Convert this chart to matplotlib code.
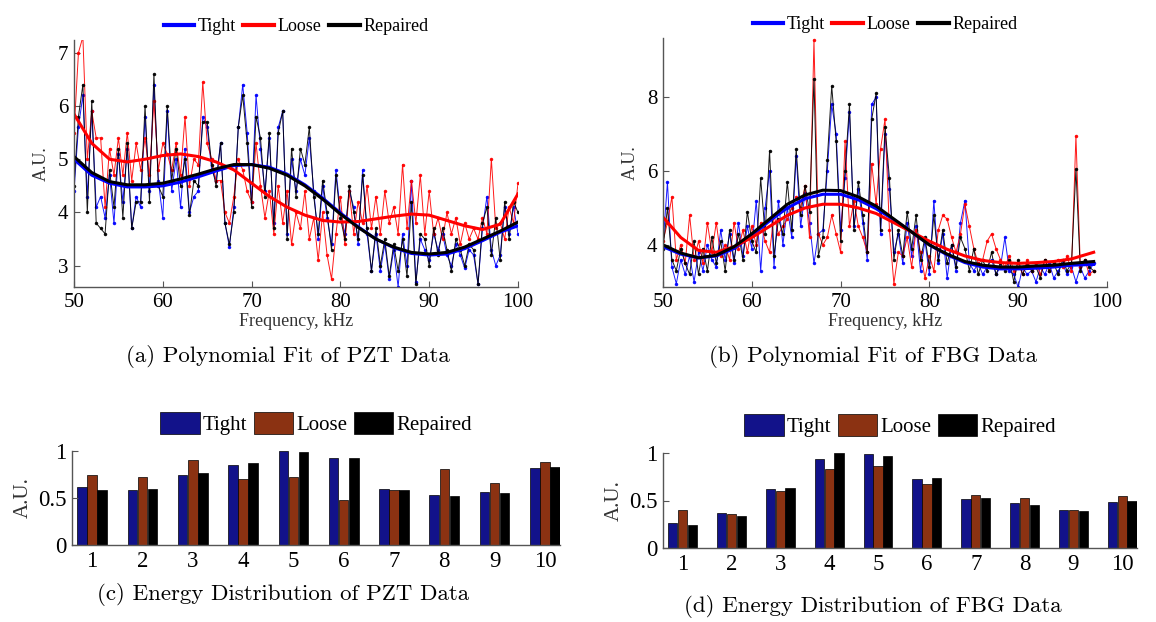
import numpy as np
import matplotlib
matplotlib.use('Agg')
import matplotlib.pyplot as plt
from matplotlib.lines import Line2D
from matplotlib.patches import Patch

# ---------------- data : panel (a) PZT, 50 .. 100 kHz step 0.5 ----------------
freq_a = np.arange(50, 100.25, 0.5)

tight_a = [4.4, 5.6, 6.2, 4.3, 5.9, 4.1, 4.3, 3.9, 4.7, 3.8,
           5.1, 4.2, 5.2, 3.7, 4.3, 4.1, 5.8, 4.4, 6.4, 4.6,
           3.9, 5.9, 4.4, 5.0, 4.1, 5.2, 4.0, 4.3, 4.4, 5.8,
           5.6, 4.8, 4.6, 5.3, 3.8, 3.35, 4.1, 5.6, 6.4, 5.5,
           4.2, 6.2, 5.2, 4.4, 5.4, 3.8, 5.6, 5.9, 3.6, 5.0,
           4.4, 5.0, 4.7, 5.4, 4.4, 3.5, 4.5, 3.9, 3.4, 4.8,
           4.0, 3.6, 4.4, 4.1, 3.4, 4.8, 3.6, 2.9, 3.6, 2.9,
           3.4, 2.75, 3.3, 2.6, 3.6, 3.0, 4.6, 2.7, 3.5, 3.3,
           3.1, 3.6, 3.3, 3.6, 3.2, 3.0, 3.4, 3.2, 2.95, 3.3,
           3.2, 2.65, 3.7, 4.3, 3.3, 3.0, 3.2, 4.1, 3.6, 4.1,
           3.6]
loose_a = [5.5, 7.0, 7.3, 5.0, 5.9, 5.4, 5.4, 4.1, 5.2, 4.7,
           5.4, 4.7, 5.5, 4.6, 5.3, 4.8, 5.4, 4.7, 6.1, 4.8,
           5.3, 5.1, 4.8, 5.3, 4.7, 5.8, 4.5, 5.0, 4.9, 6.45,
           5.3, 5.0, 4.6, 4.6, 4.0, 3.8, 4.3, 5.0, 4.8, 4.4,
           4.2, 5.3, 4.5, 3.9, 4.4, 3.6, 4.5, 3.8, 4.4, 3.4,
           4.0, 3.7, 4.4, 3.5, 3.9, 3.1, 4.0, 3.2, 2.75, 3.6,
           4.3, 3.4, 4.4, 3.6, 4.2, 3.8, 4.5, 3.7, 4.3, 3.6,
           4.4, 3.8, 4.1, 3.6, 4.9, 3.7, 4.6, 3.8, 4.7, 3.6,
           4.4, 3.6, 3.9, 3.5, 4.0, 3.6, 3.9, 3.4, 3.8, 3.5,
           3.7, 3.5, 3.9, 3.6, 5.0, 3.7, 3.8, 3.5, 4.1, 3.8,
           4.55]
repaired_a = [4.5, 5.8, 6.4, 4.0, 6.1, 3.8, 3.7, 3.6, 4.8, 4.1,
              5.2, 3.9, 5.3, 3.7, 4.2, 4.2, 6.0, 4.2, 6.6, 4.5,
              4.3, 6.0, 4.6, 5.2, 4.5, 5.0, 3.95, 4.6, 4.5, 5.7,
              5.7, 4.9, 4.5, 5.3, 3.8, 3.4, 4.0, 5.6, 6.2, 5.3,
              4.1, 5.8, 5.4, 4.3, 5.5, 3.7, 5.5, 5.9, 3.5, 5.2,
              4.3, 5.2, 4.9, 5.6, 4.3, 3.6, 4.6, 4.0, 3.3, 4.7,
              3.9, 3.5, 4.5, 4.0, 3.5, 4.7, 3.7, 2.9, 3.7, 3.0,
              3.5, 2.8, 3.4, 2.9, 3.5, 2.8, 4.2, 2.65, 3.6, 3.5,
              3.0, 3.7, 3.2, 3.7, 3.3, 2.9, 3.5, 3.3, 3.0, 3.4,
              3.3, 2.65, 3.8, 4.1, 3.2, 3.9, 3.1, 4.2, 3.5, 4.2,
              4.0]

# polynomial fits, every 2 kHz
fit_freq_a = np.arange(50, 100.5, 2)
fit_tight_a = [5.0, 4.7, 4.55, 4.48, 4.48, 4.5, 4.57, 4.67, 4.78, 4.88, 4.9, 4.85, 4.72,
               4.52, 4.27, 3.99, 3.73, 3.5, 3.34, 3.23, 3.2, 3.22, 3.32, 3.47, 3.63, 3.75]
fit_loose_a = [5.85, 5.3, 5.0, 4.95, 5.0, 5.07, 5.1, 5.05, 4.95, 4.8, 4.55, 4.3, 4.1,
               3.95, 3.85, 3.82, 3.83, 3.88, 3.93, 3.97, 3.95, 3.85, 3.75, 3.68, 3.78, 4.35]
fit_repaired_a = [5.05, 4.75, 4.58, 4.52, 4.52, 4.55, 4.63, 4.72, 4.82, 4.9, 4.9, 4.83, 4.7,
                  4.5, 4.25, 3.97, 3.72, 3.5, 3.35, 3.25, 3.22, 3.25, 3.35, 3.5, 3.65, 3.82]

# ---------------- data : panel (b) FBG, 50 .. 98.5 kHz step 0.5 ----------------
freq_b = np.arange(50, 98.75, 0.5)

tight_b = [4.0, 5.7, 3.4, 2.95, 3.6, 3.2, 3.7, 3.0, 3.8, 3.3,
           4.0, 3.6, 3.4, 4.4, 3.6, 4.3, 3.5, 4.6, 3.7, 4.5,
           3.9, 5.2, 3.3, 5.0, 6.0, 3.4, 5.2, 4.0, 5.0, 4.2,
           6.4, 4.5, 5.4, 4.6, 3.5, 4.3, 4.4, 6.0, 7.8, 7.0,
           4.4, 5.8, 7.6, 4.5, 5.5, 4.6, 3.6, 7.8, 8.0, 4.3,
           7.0, 5.5, 3.8, 4.3, 3.5, 4.6, 3.7, 4.5, 3.3, 4.1,
           3.2, 5.2, 3.5, 4.3, 3.1, 4.0, 3.3, 4.6, 5.2, 3.5,
           3.3, 3.5, 3.2, 3.4, 3.6, 3.2, 3.4, 4.2, 3.3, 3.2,
           2.85, 3.4, 3.2, 3.3, 3.0, 3.4, 3.2, 3.5, 3.1, 3.3,
           3.5, 3.2, 3.4, 3.0, 3.4, 3.1, 3.3, 3.5]
loose_b = [4.1, 4.6, 5.3, 3.6, 4.0, 3.5, 4.8, 3.6, 4.1, 3.5,
           4.6, 3.8, 4.6, 3.7, 4.0, 3.6, 4.6, 3.9, 4.4, 3.8,
           4.5, 4.0, 4.6, 4.1, 3.8, 4.8, 4.3, 4.5, 4.7, 5.0,
           5.3, 5.0, 5.6, 4.2, 9.55, 4.3, 4.0, 4.2, 4.8, 4.3,
           3.8, 6.8, 4.5, 5.2, 4.5, 4.2, 3.8, 6.2, 5.1, 6.6,
           7.4, 4.4, 2.95, 3.8, 3.7, 4.2, 3.4, 4.4, 3.8, 3.1,
           3.7, 3.3, 4.4, 4.8, 4.7, 4.2, 3.8, 4.3, 5.1, 4.5,
           3.9, 3.5, 3.6, 4.1, 4.3, 3.9, 3.6, 3.4, 3.7, 3.3,
           3.5, 3.2, 3.6, 3.3, 3.5, 3.2, 3.6, 3.3, 3.5, 3.6,
           3.4, 3.7, 3.3, 6.95, 3.4, 3.6, 3.2, 3.3]
repaired_b = [3.9, 5.0, 3.6, 3.3, 3.9, 3.5, 3.2, 4.1, 3.2, 3.9,
              3.3, 4.2, 3.5, 4.1, 3.3, 4.4, 3.6, 4.3, 3.6, 4.9,
              4.1, 3.8, 5.8, 4.3, 6.55, 3.7, 4.7, 4.3, 5.7, 4.4,
              6.6, 4.8, 5.6, 4.9, 8.5, 3.7, 4.2, 6.3, 8.3, 6.8,
              4.1, 6.0, 7.8, 4.4, 5.7, 4.8, 3.8, 7.4, 8.1, 4.4,
              7.2, 5.8, 3.6, 4.4, 3.7, 4.9, 3.9, 4.8, 3.6, 4.2,
              3.4, 4.8, 3.6, 4.4, 3.5, 4.0, 3.4, 4.2, 3.9, 3.3,
              3.9, 3.2, 3.6, 3.3, 3.8, 3.2, 3.5, 3.3, 3.6, 3.0,
              3.6, 3.2, 3.5, 3.3, 3.4, 3.1, 3.6, 3.3, 3.5, 3.2,
              3.6, 3.3, 3.5, 6.05, 3.3, 3.6, 3.4, 3.3]

fit_freq_b = [50, 52, 54, 56, 58, 60, 62, 64, 66, 68, 70, 72, 74,
              76, 78, 80, 82, 84, 86, 88, 90, 92, 94, 96, 98.5]
fit_tight_b = [3.95, 3.75, 3.65, 3.7, 3.9, 4.25, 4.65, 5.0, 5.25, 5.37, 5.37, 5.22, 4.98,
               4.68, 4.35, 4.0, 3.73, 3.52, 3.4, 3.35, 3.35, 3.37, 3.4, 3.45, 3.47]
fit_loose_b = [4.75, 4.2, 3.85, 3.8, 3.95, 4.2, 4.5, 4.8, 5.0, 5.1, 5.1, 5.0, 4.85,
               4.6, 4.35, 4.1, 3.88, 3.7, 3.58, 3.52, 3.5, 3.52, 3.55, 3.62, 3.8]
fit_repaired_b = [4.0, 3.78, 3.65, 3.72, 3.95, 4.3, 4.7, 5.1, 5.35, 5.48, 5.47, 5.3, 5.05,
                  4.7, 4.35, 4.0, 3.75, 3.55, 3.45, 3.4, 3.4, 3.43, 3.45, 3.5, 3.55]

# ---------------- data : energy distributions (c) PZT and (d) FBG ----------------
bands = np.arange(1, 11)
pzt_tight = [0.62, 0.59, 0.75, 0.85, 1.0, 0.93, 0.6, 0.53, 0.56, 0.82]
pzt_loose = [0.75, 0.72, 0.9, 0.7, 0.72, 0.48, 0.59, 0.81, 0.66, 0.88]
pzt_repaired = [0.58, 0.6, 0.77, 0.87, 0.99, 0.93, 0.59, 0.52, 0.55, 0.83]
fbg_tight = [0.26, 0.37, 0.62, 0.94, 0.99, 0.73, 0.52, 0.47, 0.4, 0.48]
fbg_loose = [0.4, 0.36, 0.6, 0.83, 0.86, 0.67, 0.56, 0.53, 0.4, 0.55]
fbg_repaired = [0.24, 0.34, 0.63, 1.0, 0.97, 0.74, 0.53, 0.45, 0.39, 0.5]

labels = ['Tight', 'Loose', 'Repaired']
line_colors = ['#0000ff', '#ff0000', '#000000']
bar_colors = ['#12128a', '#8b3212', '#000000']

W, H = 1156, 622
serif = 'Liberation Serif'
cap_font = 'cmr10'


def rect(l, t, r, b):
    "pixel box -> figure fraction"
    return [l / W, 1 - b / H, (r - l) / W, (b - t) / H]


def style_axes(ax, tick_size):
    for s in ['top', 'right']:
        ax.spines[s].set_visible(False)
    for s in ['left', 'bottom']:
        ax.spines[s].set_color('#555555')
        ax.spines[s].set_linewidth(1.0)
    ax.tick_params(direction='in', length=4, width=0.8, color='#555555',
                   labelsize=tick_size, pad=4)
    for lab in ax.get_xticklabels() + ax.get_yticklabels():
        lab.set_fontfamily(serif)


def plot_fit_panel(ax, fx, noisy, ffx, fits, xlim, ylim, yticks):
    for ip in range(3):
        ax.plot(fx, noisy[ip], color=line_colors[ip], linewidth=0.7,
                marker='.', markersize=3, alpha=0.9)
    for ip in range(3):
        ax.plot(ffx, fits[ip], color=line_colors[ip], linewidth=2.2)
    ax.set_xlim(xlim)
    ax.set_ylim(ylim)
    ax.set_xticks([50, 60, 70, 80, 90, 100])
    ax.set_yticks(yticks)
    style_axes(ax, 15)
    ax.set_xlabel('Frequency, kHz', fontsize=13, family=serif, color='#333333', labelpad=1)
    ax.set_ylabel('A.U.', fontsize=13, family=serif, color='#333333', labelpad=6)
    handles = [Line2D([], [], color=c, linewidth=3) for c in line_colors]
    ax.legend(handles, labels, loc='lower center', bbox_to_anchor=(0.5, 0.99), ncol=3,
              frameon=False, prop={'family': serif, 'size': 13}, handlelength=1.7,
              handletextpad=0.2, columnspacing=0.4, borderaxespad=0)


def plot_bar_panel(ax, vals, xlim):
    w = 0.19
    for ip in range(3):
        ax.bar(bands + (ip - 1) * 0.2, vals[ip], width=w, color=bar_colors[ip],
               edgecolor='black', linewidth=0.5)
    ax.set_xlim(xlim)
    ax.set_ylim(0, 1)
    ax.set_xticks(bands)
    ax.set_yticks([0, 0.5, 1])
    ax.set_yticklabels(['0', '0.5', '1'])
    style_axes(ax, 16.5)
    ax.tick_params(axis='x', length=0)
    ax.set_ylabel('A.U.', fontsize=15, family=serif, color='#333333', labelpad=4)
    handles = [Patch(facecolor=c, edgecolor='black', linewidth=0.5) for c in bar_colors]
    ax.legend(handles, labels, loc='lower center', bbox_to_anchor=(0.5, 1.08), ncol=3,
              frameon=False, prop={'family': serif, 'size': 15}, handlelength=1.9,
              handleheight=1.2, handletextpad=0.15, columnspacing=0.3, borderaxespad=0)


fig = plt.figure(figsize=(W / 100, H / 100), dpi=100)
fig.patch.set_facecolor('white')

ax_a = fig.add_axes(rect(74, 40, 518, 287))
plot_fit_panel(ax_a, freq_a, [tight_a, loose_a, repaired_a], fit_freq_a,
               [fit_tight_a, fit_loose_a, fit_repaired_a], (50, 100), (2.6, 7.24),
               [3, 4, 5, 6, 7])

ax_b = fig.add_axes(rect(663, 38, 1107, 287))
plot_fit_panel(ax_b, freq_b, [tight_b, loose_b, repaired_b], fit_freq_b,
               [fit_tight_b, fit_loose_b, fit_repaired_b], (50, 100), (2.86, 9.6),
               [4, 6, 8])

ax_c = fig.add_axes(rect(72, 451, 560, 545))
plot_bar_panel(ax_c, [pzt_tight, pzt_loose, pzt_repaired], (0.6, 10.3))

ax_d = fig.add_axes(rect(663, 453, 1137, 548))
plot_bar_panel(ax_d, [fbg_tight, fbg_loose, fbg_repaired], (0.6, 10.3))

# sub-figure captions
caps = [(288, 357, '(a) Polynomial Fit of PZT Data'),
        (873, 357, '(b) Polynomial Fit of FBG Data'),
        (283, 594, '(c) Energy Distribution of PZT Data'),
        (873, 606, '(d) Energy Distribution of FBG Data')]
for x, y, t in caps:
    fig.text(x / W, 1 - y / H, t, ha='center', va='center', fontsize=16.5,
             family=cap_font)

fig.savefig('out.png', dpi=100)
